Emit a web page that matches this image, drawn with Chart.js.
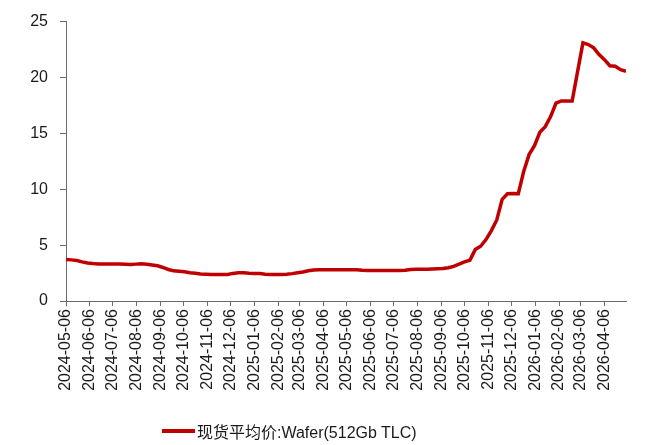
<!DOCTYPE html>
<html>
<head>
<meta charset="utf-8">
<script src="https://cdn.jsdelivr.net/npm/chart.js@4/dist/chart.umd.min.js"></script>
<style>
  body { margin: 0; background: #fff; }
  #wrap { position: relative; width: 652px; height: 445px; }
  #legend { position: absolute; left: 162px; top: 419px; display: flex; align-items: center;
    font: 16px "Liberation Sans", "Noto Sans CJK SC", sans-serif; color: #1a1a1a; white-space: nowrap; }
  #legend .swatch { width: 33px; height: 4px; background: #c00000; margin-right: 2px; }
</style>
</head>
<body>
<div id="wrap">
  <canvas id="waferChart" width="652" height="445"></canvas>
  <div id="legend"><span class="swatch"></span><span id="legendText"></span></div>
</div>
<script>
const seriesName = '现货平均价:Wafer(512Gb TLC)';
const firstWeek = '2024-05-06';
// weekly spot price, one value per week starting at firstWeek
const waferPrice = [
  3.72, 3.68, 3.62, 3.50, 3.40, 3.35, 3.32, 3.30, 3.30, 3.30,
  3.30, 3.28, 3.26, 3.30, 3.33, 3.28, 3.22, 3.15, 3.00, 2.82,
  2.70, 2.66, 2.62, 2.53, 2.48, 2.42, 2.39, 2.37, 2.37, 2.37,
  2.38, 2.47, 2.53, 2.53, 2.48, 2.46, 2.45, 2.40, 2.37, 2.37,
  2.37, 2.40, 2.45, 2.52, 2.60, 2.70, 2.78, 2.80, 2.80, 2.80,
  2.80, 2.80, 2.80, 2.80, 2.80, 2.76, 2.74, 2.74, 2.74, 2.74,
  2.74, 2.74, 2.74, 2.76, 2.82, 2.85, 2.85, 2.85, 2.86, 2.88,
  2.90, 2.98, 3.10, 3.30, 3.50, 3.65, 4.60, 4.90, 5.50, 6.30,
  7.25, 9.10, 9.60, 9.62, 9.60, 11.60, 13.10, 13.90, 15.10, 15.60,
  16.50, 17.70, 17.90, 17.90, 17.90, 20.50, 23.10, 22.95, 22.65, 22.05,
  21.60, 21.05, 21.00, 20.70, 20.55
];
const tickLabels = [
  '2024-05-06', '2024-06-06', '2024-07-06', '2024-08-06', '2024-09-06', '2024-10-06',
  '2024-11-06', '2024-12-06', '2025-01-06', '2025-02-06', '2025-03-06', '2025-04-06',
  '2025-05-06', '2025-06-06', '2025-07-06', '2025-08-06', '2025-09-06', '2025-10-06',
  '2025-11-06', '2025-12-06', '2026-01-06', '2026-02-06', '2026-03-06', '2026-04-06'
];
const yTicks = [0, 5, 10, 15, 20, 25];

const dayMs = 86400000;
const startMs = Date.parse(firstWeek);
const daysFromStart = s => Math.round((Date.parse(s) - startMs) / dayMs);
const points = waferPrice.map((v, i) => ({ x: i * 7, y: v }));
const tickDays = tickLabels.map(daysFromStart);

const textFont = { family: '"Liberation Sans", "Noto Sans CJK SC", sans-serif', size: 16 };
const axisGrey = '#6b6b6b';

document.getElementById('legendText').textContent = seriesName;

new Chart(document.getElementById('waferChart').getContext('2d'), {
  type: 'line',
  data: {
    datasets: [{ label: seriesName, data: points, borderColor: '#c00000', borderWidth: 3.5,
      pointRadius: 0, tension: 0, fill: false }]
  },
  options: {
    responsive: false,
    animation: false,
    layout: { padding: { top: 20, right: 26, left: 0, bottom: 0 } },
    plugins: { legend: { display: false }, tooltip: { enabled: false } },
    scales: {
      x: {
        type: 'linear',
        min: 0,
        max: points[points.length - 1].x,
        afterBuildTicks: s => { s.ticks = tickDays.map(v => ({ value: v })); },
        afterFit: s => { s.height = 144; },
        border: { display: true, color: axisGrey, width: 1 },
        grid: { drawOnChartArea: false, drawTicks: true, tickLength: 5, color: axisGrey },
        ticks: {
          autoSkip: false, minRotation: 90, maxRotation: 90, padding: 3,
          color: '#1a1a1a', font: textFont,
          callback: (v, i) => tickLabels[i]
        }
      },
      y: {
        min: 0,
        max: 25,
        afterBuildTicks: s => { s.ticks = yTicks.map(v => ({ value: v })); },
        afterFit: s => { s.width = 66; },
        border: { display: true, color: axisGrey, width: 1 },
        grid: { drawOnChartArea: false, drawTicks: true, tickLength: 6, color: axisGrey },
        ticks: { padding: 12, color: '#1a1a1a', font: textFont }
      }
    }
  }
});
</script>
</body>
</html>
